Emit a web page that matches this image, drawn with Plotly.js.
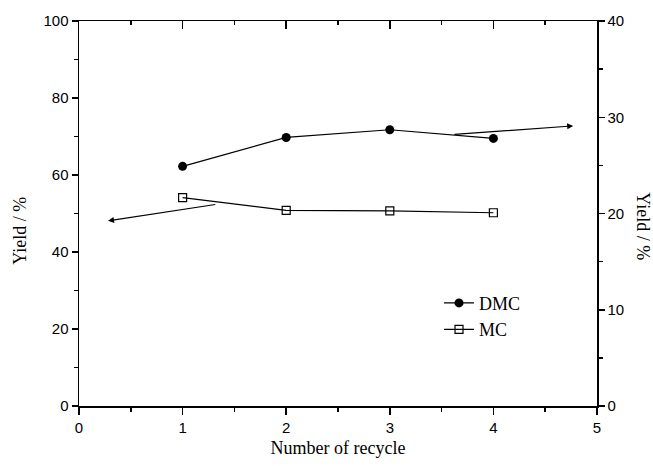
<!DOCTYPE html>
<html>
<head>
<meta charset="utf-8">
<script src="https://cdn.plot.ly/plotly-3.0.1.min.js"></script>
<style>html,body{margin:0;padding:0;background:#fff;}#chart{width:653px;height:466px;}</style>
</head>
<body>
<div id="chart"></div>
<script>
// Data
var recycleNumber = [1, 2, 3, 4];
var dmcYield = [24.9, 27.9, 28.7, 27.8];   // right axis (Yield / %)
var mcYield = [54.1, 50.8, 50.7, 50.2];    // left axis (Yield / %)
var seriesNames = ["DMC", "MC"];

var tickFont = {family: "Liberation Sans, Arial, sans-serif", size: 15, color: "#000"};
var serif = "Liberation Serif, Times New Roman, serif";

var traces = [
  {
    x: recycleNumber, y: dmcYield, name: seriesNames[0], yaxis: "y2",
    mode: "lines+markers", type: "scatter",
    line: {color: "#000", width: 1.2},
    marker: {symbol: "circle", size: 9, color: "#000"}
  },
  {
    x: recycleNumber, y: mcYield, name: seriesNames[1],
    mode: "lines+markers", type: "scatter",
    line: {color: "#000", width: 1.2},
    marker: {symbol: "square-open", size: 8, color: "#000", line: {width: 1.2}}
  },
  {
    x: [null], y: [null], xaxis: "x2", showlegend: false, hoverinfo: "skip",
    mode: "markers", type: "scatter"
  }
];

var layout = {
  width: 653, height: 466,
  margin: {l: 79, r: 56, t: 21, b: 60},
  paper_bgcolor: "#fff", plot_bgcolor: "#fff",
  showlegend: true,
  legend: {
    x: 0.695, y: 0.315, xanchor: "left", yanchor: "top",
    bgcolor: "rgba(0,0,0,0)",
    font: {family: serif, size: 18, color: "#000"},
    tracegroupgap: 0
  },
  xaxis: {
    range: [0, 5], dtick: 1, tick0: 0,
    showgrid: false, zeroline: false,
    showline: true, linecolor: "#000", linewidth: 1.5,
    ticks: "outside", ticklen: 7, tickwidth: 1.5, tickcolor: "#000",
    minor: {dtick: 0.5, ticks: "outside", ticklen: 4, tickwidth: 1.5, tickcolor: "#000", showgrid: false},
    tickfont: tickFont,
    title: {text: "Number of recycle", font: {family: serif, size: 18, color: "#000"}, standoff: 7}
  },
  xaxis2: {
    overlaying: "x", side: "top", range: [0, 5], dtick: 1, tick0: 0,
    showgrid: false, zeroline: false, showticklabels: false,
    showline: true, linecolor: "#000", linewidth: 1.5,
    ticks: "inside", ticklen: 8, tickwidth: 1.5, tickcolor: "#000",
    minor: {dtick: 0.5, ticks: "inside", ticklen: 4, tickwidth: 1.5, tickcolor: "#000", showgrid: false}
  },
  yaxis: {
    range: [0, 100], dtick: 20, tick0: 0,
    showgrid: false, zeroline: false,
    showline: true, linecolor: "#000", linewidth: 1.5,
    ticks: "outside", ticklen: 6, tickwidth: 1.5, tickcolor: "#000",
    minor: {dtick: 10, ticks: "outside", ticklen: 4, tickwidth: 1.5, tickcolor: "#000", showgrid: false},
    tickfont: tickFont
  },
  yaxis2: {
    overlaying: "y", side: "right", range: [0, 40], dtick: 10, tick0: 0,
    showgrid: false, zeroline: false,
    showline: true, linecolor: "#000", linewidth: 1.5,
    ticks: "outside", ticklen: 6, tickwidth: 1.5, tickcolor: "#000",
    minor: {dtick: 5, ticks: "outside", ticklen: 4, tickwidth: 1.5, tickcolor: "#000", showgrid: false},
    tickfont: tickFont
  },
  annotations: [
    {
      xref: "paper", yref: "paper", x: -0.114, y: 0.455, showarrow: false,
      xanchor: "center", yanchor: "middle",
      text: "Yield / %", textangle: -90,
      font: {family: serif, size: 18, color: "#000"}
    },
    {
      xref: "paper", yref: "paper", x: 1.09, y: 0.468, showarrow: false,
      xanchor: "center", yanchor: "middle",
      text: "Yield / %", textangle: 90,
      font: {family: serif, size: 18, color: "#000"}
    },
    {
      xref: "x", yref: "y2", axref: "x", ayref: "y2",
      x: 4.77, y: 29.1, ax: 3.61, ay: 28.2, text: "",
      showarrow: true, arrowhead: 2, arrowsize: 1, arrowwidth: 1.2, arrowcolor: "#000"
    },
    {
      xref: "x", yref: "y", axref: "x", ayref: "y",
      x: 0.28, y: 48.1, ax: 1.33, ay: 52.4, text: "",
      showarrow: true, arrowhead: 2, arrowsize: 1, arrowwidth: 1.2, arrowcolor: "#000"
    }
  ]
};

Plotly.newPlot("chart", traces, layout, {displayModeBar: false, staticPlot: true});
</script>
</body>
</html>
